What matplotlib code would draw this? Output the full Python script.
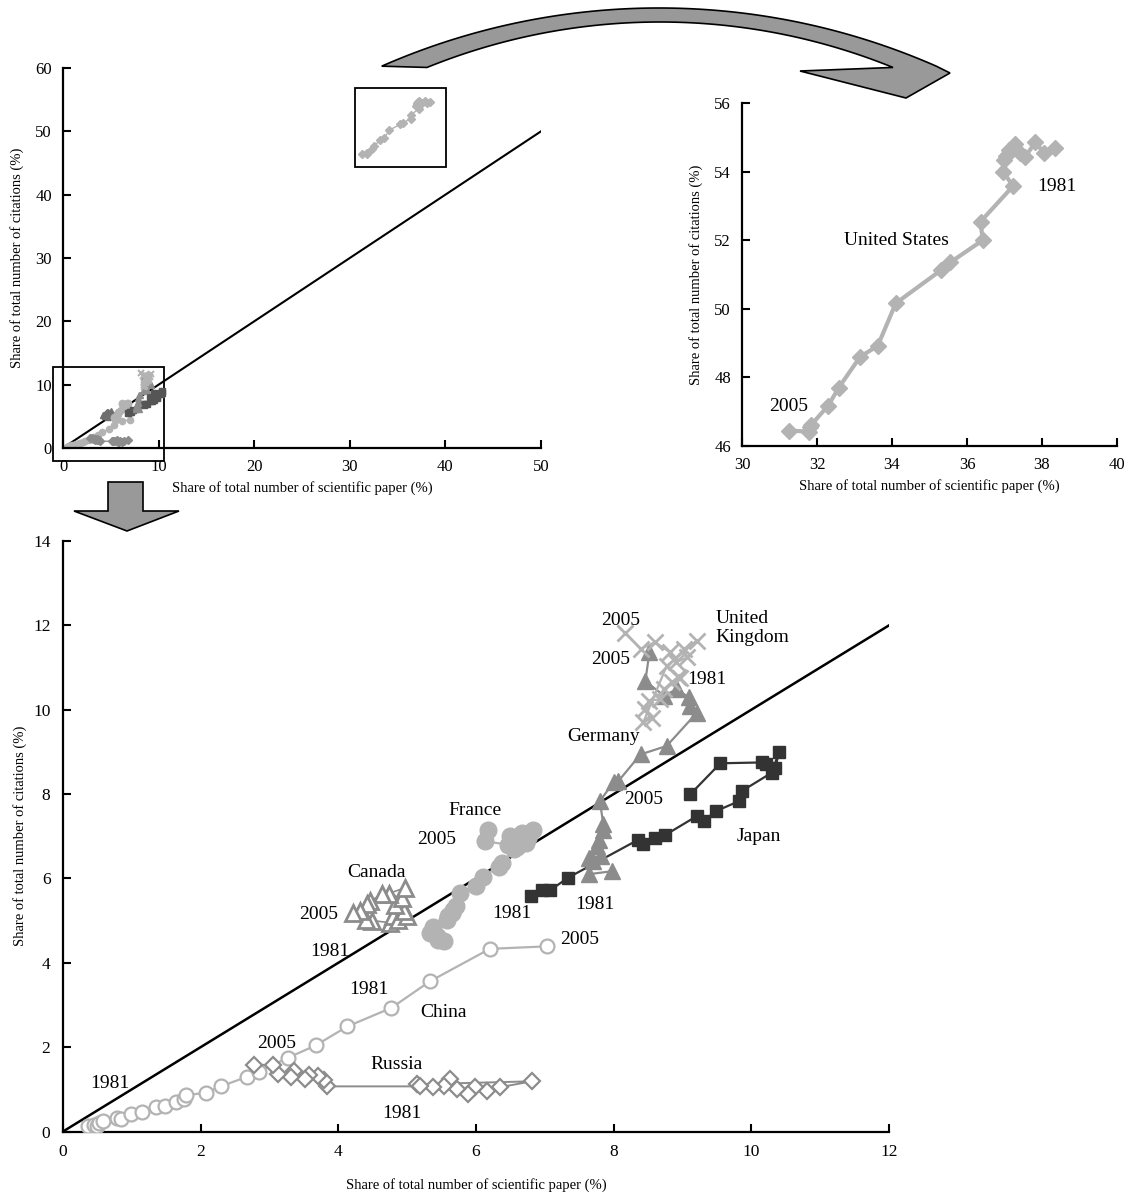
import numpy as np
import matplotlib
matplotlib.use("Agg")
import matplotlib.pyplot as plt
from matplotlib.patches import Polygon, Rectangle
from matplotlib.transforms import Affine2D

plt.rcParams['font.family'] = ['Liberation Serif', 'DejaVu Serif']

# ---------------- data: share of papers (%) vs share of citations (%), 1981-2005
us_paper = [38.35, 38.05, 37.82, 37.55, 37.40, 37.28, 37.12, 36.98, 37.05, 36.97, 37.23, 36.36,
            36.42, 35.55, 35.30, 34.10, 33.62, 33.15, 32.58, 32.30, 31.85, 31.80, 31.78, 31.25]
us_cite = [54.68, 54.55, 54.86, 54.42, 54.55, 54.80, 54.62, 54.35, 54.45, 53.98, 53.58, 52.54,
           52.00, 51.35, 51.12, 50.16, 48.92, 48.60, 47.70, 47.18, 46.62, 46.55, 46.42, 46.45]

jp_paper = [6.80, 6.96, 7.08, 7.33, 8.36, 8.43, 8.60, 8.74, 9.21, 9.31, 9.49, 9.82, 9.86,
            10.30, 10.40, 10.35, 10.22, 10.16, 9.55, 9.11]
jp_cite = [5.58, 5.72, 5.72, 6.01, 6.92, 6.81, 6.96, 7.02, 7.48, 7.36, 7.60, 7.83, 8.07,
           8.51, 9.00, 8.62, 8.72, 8.75, 8.73, 7.99]

de_paper = [7.97, 7.64, 7.70, 7.64, 7.81, 7.76, 7.78, 7.85, 7.85, 7.80, 8.00, 8.07, 8.39,
            8.77, 9.21, 9.11, 9.09, 8.92, 8.73, 8.46, 8.52]
de_cite = [6.17, 6.10, 6.41, 6.49, 6.53, 6.76, 6.92, 7.16, 7.28, 7.83, 8.29, 8.31, 8.94,
           9.14, 9.93, 10.09, 10.29, 10.49, 10.33, 10.68, 11.36]

uk_paper = [8.97, 8.85, 8.94, 8.73, 8.68, 8.51, 8.46, 8.56, 8.43, 8.77, 9.21, 9.02, 9.07,
            8.90, 8.82, 8.60, 8.39, 8.17]
uk_cite = [10.75, 10.65, 10.77, 10.49, 10.25, 10.21, 10.01, 9.81, 9.70, 11.04, 11.63, 11.44,
           11.24, 11.12, 11.36, 11.60, 11.44, 11.83]

fr_paper = [5.53, 5.45, 5.43, 5.33, 5.37, 5.58, 5.60, 5.65, 5.67, 5.71, 5.77, 6.00, 6.10,
            6.33, 6.38, 6.55, 6.60, 6.72, 6.76, 6.83, 6.67, 6.50, 6.47, 6.13, 6.18]
fr_cite = [4.51, 4.55, 4.63, 4.71, 4.86, 5.02, 5.10, 5.18, 5.26, 5.34, 5.66, 5.82, 6.04,
           6.28, 6.37, 6.69, 6.75, 6.85, 6.96, 7.16, 7.08, 7.00, 6.80, 6.88, 7.16]

ca_paper = [4.49, 4.40, 4.75, 4.80, 4.87, 5.00, 4.95, 4.83, 4.92, 4.97, 4.73, 4.63, 4.46,
            4.42, 4.32, 4.22]
ca_cite = [4.98, 5.02, 4.95, 5.10, 5.02, 5.10, 5.22, 5.38, 5.54, 5.78, 5.64, 5.62, 5.46,
           5.40, 5.22, 5.18]

cn_paper = [0.37, 0.45, 0.49, 0.53, 0.58, 0.78, 0.84, 0.99, 1.15, 1.35, 1.48, 1.64, 1.76,
            1.79, 2.08, 2.29, 2.68, 2.85, 3.27, 3.67, 4.13, 4.77, 5.33, 6.20, 7.03]
cn_cite = [0.12, 0.16, 0.14, 0.19, 0.26, 0.31, 0.29, 0.41, 0.47, 0.58, 0.61, 0.70, 0.78,
           0.86, 0.92, 1.07, 1.30, 1.42, 1.75, 2.04, 2.49, 2.93, 3.56, 4.33, 4.39]

ru_paper = [5.15, 6.81, 6.35, 6.16, 5.99, 5.89, 5.72, 5.62, 5.53, 5.38, 5.19, 3.84, 3.79,
            3.70, 3.58, 3.51, 3.36, 3.31, 3.13, 3.05, 2.78]
ru_cite = [1.12, 1.19, 1.05, 0.97, 1.05, 0.89, 1.01, 1.25, 1.09, 1.05, 1.07, 1.07, 1.21,
           1.32, 1.35, 1.25, 1.44, 1.30, 1.36, 1.58, 1.58]

LIGHT = '#b3b3b3'
MID = '#8c8c8c'
DARK = '#333333'

W, H = 1125, 1196
fig = plt.figure(figsize=(W / 100, H / 100), dpi=100)
px = Affine2D().scale(1 / W, -1 / H).translate(0, 1) + fig.transFigure


def axes_px(left, top, right, bottom):
    return fig.add_axes([left / W, 1 - bottom / H, (right - left) / W, (bottom - top) / H])


def style(ax, tick_size, pad):
    for s in ('top', 'right'):
        ax.spines[s].set_visible(False)
    for s in ('left', 'bottom'):
        ax.spines[s].set_linewidth(1.6)
    ax.tick_params(direction='in', length=6, width=1.5, labelsize=tick_size, pad=pad)


# ---------------- overview (all countries, full range)
ov = axes_px(63, 68, 541, 448)
ov.plot([0, 50], [0, 50], color='black', lw=1.5, zorder=1)
small = dict(lw=1.0, ms=4.5)
ov.plot(us_paper, us_cite, marker='D', color=LIGHT, mec=LIGHT, **small)
ov.plot(cn_paper, cn_cite, marker='o', color=LIGHT, mec=LIGHT, **small)
ov.plot(ru_paper, ru_cite, marker='D', color=MID, mec=MID, **small)
ov.plot(ca_paper, ca_cite, marker='^', color='#6e6e6e', mec='#6e6e6e', **small)
ov.plot(fr_paper, fr_cite, marker='o', color=LIGHT, mec=LIGHT, **small)
ov.plot(jp_paper, jp_cite, marker='s', color='#555555', mec='#555555', **small)
ov.plot(de_paper, de_cite, marker='^', color=MID, mec=MID, **small)
ov.plot(uk_paper, uk_cite, marker='x', color=LIGHT, mec=LIGHT, mew=1.5, lw=1.0, ms=4.5)
ov.set_xlim(0, 50)
ov.set_ylim(0, 60)
ov.set_xticks(range(0, 51, 10))
ov.set_yticks(range(0, 61, 10))
style(ov, 12, 8)
ov.set_xlabel('Share of total number of scientific paper (%)', fontsize=10.5, labelpad=4)
ov.set_ylabel('Share of total number of citations (%)', fontsize=10.5, labelpad=8)
ov.add_patch(Rectangle((30.5, 44.3), 9.6, 12.5, fill=False, ec='black', lw=1.3, clip_on=False))
ov.add_patch(Rectangle((-1.0, -2.1), 11.6, 14.9, fill=False, ec='black', lw=1.3, clip_on=False))

# ---------------- United States close-up
us = axes_px(742, 103, 1117, 446)
us.plot(us_paper, us_cite, marker='D', color=LIGHT, mec=LIGHT, lw=3.0, ms=8.5)
us.set_xlim(30, 40)
us.set_ylim(46, 56)
us.set_xticks(range(30, 41, 2))
us.set_yticks(range(46, 57, 2))
style(us, 12, 8)
us.set_xlabel('Share of total number of scientific paper (%)', fontsize=10.5, labelpad=4)
us.set_ylabel('Share of total number of citations (%)', fontsize=10.5, labelpad=8)
tkw = dict(fontsize=14, ha='center', va='center')
us.text(38.40, 53.56, '1981', **tkw)
us.text(34.13, 52.0, 'United States', **tkw)
us.text(31.24, 47.15, '2005', **tkw)

# ---------------- main chart (0-14 %)
ax = axes_px(63, 541, 889, 1131.5)
ax.plot([0, 12], [0, 12], color='black', lw=1.8, zorder=1)
ax.plot(cn_paper, cn_cite, marker='o', color=LIGHT, mfc='white', mec=LIGHT, mew=1.6, lw=1.6, ms=10, zorder=3)
ax.plot(ru_paper, ru_cite, marker='D', color=MID, mfc='white', mec=MID, mew=1.6, lw=1.4, ms=8, zorder=3)
ax.plot(ca_paper, ca_cite, marker='^', color=MID, mfc='white', mec=MID, mew=2.0, lw=1.2, ms=11, zorder=3)
ax.plot(fr_paper, fr_cite, marker='o', color=LIGHT, mec=LIGHT, lw=1.6, ms=12, zorder=3)
ax.plot(jp_paper, jp_cite, marker='s', color=DARK, mec=DARK, lw=1.6, ms=9, zorder=4)
ax.plot(de_paper, de_cite, marker='^', color=MID, mec=MID, lw=1.6, ms=12, zorder=4)
ax.plot(uk_paper, uk_cite, marker='x', color=LIGHT, mec=LIGHT, mew=2.0, lw=1.6, ms=12, zorder=5)
ax.set_xlim(0, 12)
ax.set_ylim(0, 14)
ax.set_xticks(range(0, 13, 2))
ax.set_yticks(range(0, 15, 2))
style(ax, 12.5, 9)
ax.set_xlabel('Share of total number of scientific paper (%)', fontsize=10.5, labelpad=13)
ax.set_ylabel('Share of total number of citations (%)', fontsize=10.5, labelpad=4)

labels = [
    (8.10, 12.11, '2005'), (7.95, 11.20, '2005'), (9.36, 10.72, '1981'),
    (7.85, 9.36, 'Germany'), (8.44, 7.87, '2005'), (10.11, 6.99, 'Japan'),
    (5.99, 7.60, 'France'), (5.43, 6.92, '2005'), (4.55, 6.13, 'Canada'),
    (3.71, 5.14, '2005'), (3.88, 4.27, '1981'), (6.52, 5.18, '1981'),
    (7.73, 5.38, '1981'), (7.51, 4.56, '2005'), (4.44, 3.36, '1981'),
    (5.53, 2.81, 'China'), (3.11, 2.09, '2005'), (4.85, 1.60, 'Russia'),
    (4.92, 0.43, '1981'), (0.68, 1.14, '1981'),
]
for x, y, s in labels:
    ax.text(x, y, s, **tkw)
ax.text(9.48, 11.93, 'United\nKingdom', fontsize=14, ha='left', va='center', linespacing=1.15)

# ---------------- connecting arrows (figure pixel coordinates)
# curved band: two flat circular arcs, widening into an arrowhead on the right
xo = np.linspace(381.7, 936.3, 120)
yo = (8 + 690) - np.sqrt(690 ** 2 - (xo - 659) ** 2)
xi = np.linspace(893.0, 427.0, 120)
yi = (22 + 620) - np.sqrt(620 ** 2 - (xi - 660) ** 2)
head = np.array([[950, 73], [906, 98], [800, 71]])
curve = np.vstack([np.column_stack([xo, yo]), head, np.column_stack([xi, yi])])
fig.patches.append(Polygon(curve, closed=True, transform=px, fc='#999999', ec='black', lw=1.2))

down = np.array([[108, 482], [143, 482], [143, 511], [179, 511], [127, 531], [74, 511], [108, 511]])
fig.patches.append(Polygon(down, closed=True, transform=px, fc='#999999', ec='black', lw=1.2))

fig.savefig('out.png', dpi=100)
